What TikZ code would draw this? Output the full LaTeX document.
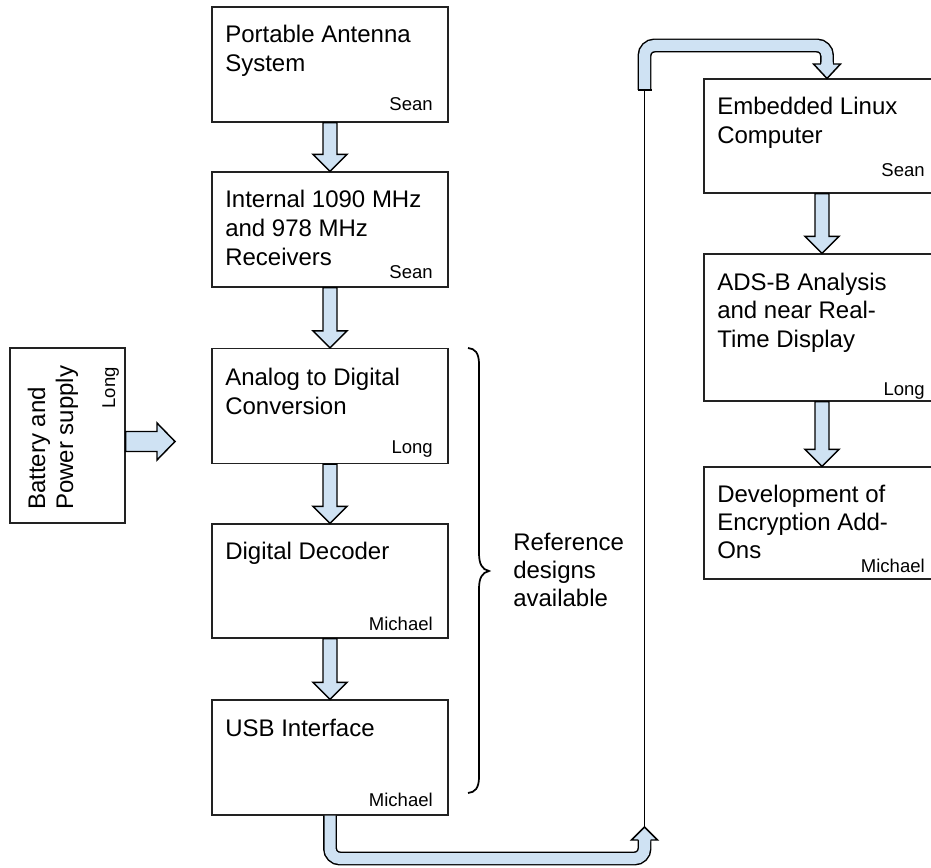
\documentclass[tikz,border=0pt]{standalone}
\usepackage{fontspec}
\setmainfont{Liberation Sans}
\usetikzlibrary{calc}
\definecolor{arrowblue}{HTML}{CFE2F3}
\definecolor{linegray}{HTML}{222222}
\tikzset{
  blockbox/.style={draw=linegray, line width=0.85pt, fill=white, inner sep=0pt, minimum width=177pt},
  lbl/.style={anchor=base west, inner sep=0pt, font=\fontsize{18pt}{21.75pt}\selectfont, text=black},
  owner/.style={anchor=base east, inner sep=0pt, font=\fontsize{13.9pt}{16pt}\selectfont, text=black},
  blockarrow/.style={draw=black, line width=1.1pt, fill=arrowblue, line join=miter},
  bentarrow/.style={draw=black, line width=1.1pt, double=arrowblue, double distance=8.25pt, rounded corners=7.5pt},
  headline/.style={draw=black, line width=1.1pt, line join=miter},
  wireline/.style={draw=black, line width=1.1pt},
  bracestyle/.style={draw=black, line width=1.3pt},
}
\newcommand\blkdown[2]{%
  \path[blockarrow] let \p1=(#1.south), \p2=(#2.north) in
   (\x2-5.25pt,\y1) -- (\x2-5.25pt,\y2+12.75pt) -- (\x2-12.75pt,\y2+12.75pt) -- (\x2,\y2)
   -- (\x2+12.75pt,\y2+12.75pt) -- (\x2+5.25pt,\y2+12.75pt) -- (\x2+5.25pt,\y1) -- cycle;}
\begin{document}
\begin{tikzpicture}[x=0.75pt,y=-0.75pt]
\useasboundingbox (0,0) rectangle (931,867);
\clip (0,0) rectangle (931,867);

% left column boxes
\node[blockbox, minimum height=86.25pt] (b1) at (330,64.5) {};
\node[blockbox, minimum height=86.25pt] (b2) at (330,229.5) {};
\node[blockbox, minimum height=86.25pt] (b3) at (330,406) {};
\node[blockbox, minimum height=85.5pt] (b4) at (330,581) {};
\node[blockbox, minimum height=86.25pt] (b5) at (330,757.5) {};
% right column boxes
\node[blockbox, minimum height=85.5pt] (r1) at (822,136) {};
\node[blockbox, minimum height=110.25pt] (r2) at (822,327.5) {};
\node[blockbox, minimum height=84pt] (r3) at (822,523) {};
% battery box
\node[blockbox, minimum width=86.25pt, minimum height=131.25pt] (bat) at (67.5,435.5) {};

% texts
\node[lbl] (t11) at (225,43) {Portable Antenna};
\node[lbl] (t12) at (225,72) {System};
\node[owner] (o1) at (433,110) {Sean};

\node[lbl] (t21) at (225,207) {Internal 1090 MHz};
\node[lbl] (t22) at (225,236) {and 978 MHz};
\node[lbl] (t23) at (225,265) {Receivers};
\node[owner] (o2) at (433,278) {Sean};

\node[lbl] (t31) at (225,385) {Analog to Digital};
\node[lbl] (t32) at (225,414) {Conversion};
\node[owner] (o3) at (433,453) {Long};

\node[lbl] (t41) at (225,559) {Digital Decoder};
\node[owner] (o4) at (433,630) {Michael};

\node[lbl] (t51) at (225,736) {USB Interface};
\node[owner] (o5) at (433,806) {Michael};

\node[lbl] (u11) at (717,114) {Embedded Linux};
\node[lbl] (u12) at (717,143) {Computer};
\node[owner] (p1) at (925,176) {Sean};

\node[lbl] (u21) at (717,290) {ADS-B Analysis};
\node[lbl] (u22) at (717,318) {and near Real-};
\node[lbl] (u23) at (717,347) {Time Display};
\node[owner] (p2) at (925,395) {Long};

\node[lbl] (u31) at (717,502) {Development of};
\node[lbl] (u32) at (717,530) {Encryption Add-};
\node[lbl] (u33) at (717,558) {Ons};
\node[owner] (p3) at (925,572) {Michael};

\node[lbl, rotate=90] (v1) at (45,510) {Battery and};
\node[lbl, rotate=90] (v2) at (73,510) {Power supply};
\node[owner, rotate=90] (v3) at (115,367) {Long};

\node[lbl] (w1) at (513,550) {Reference};
\node[lbl] (w2) at (513,578) {designs};
\node[lbl] (w3) at (513,606) {available};

% straight block arrows
\blkdown{b1}{b2}
\blkdown{b2}{b3}
\blkdown{b3}{b4}
\blkdown{b4}{b5}
\blkdown{r1}{r2}
\blkdown{r2}{r3}

% battery arrow
\coordinate (battip) at (175,441.5);
\path[blockarrow] let \p1=(bat.east), \p2=(battip) in
  (\x1,\y2+7.5pt) -- (\x2-13.5pt,\y2+7.5pt) -- (\x2-13.5pt,\y2+13.875pt) -- (\x2,\y2)
  -- (\x2-13.5pt,\y2-13.875pt) -- (\x2-13.5pt,\y2-7.5pt) -- (\x1,\y2-7.5pt) -- cycle;

% brace
\draw[bracestyle] (468,348) .. controls (475,348.5) and (479,353) .. (479,364) -- (479,553)
  .. controls (479,564) and (482,569.5) .. (489,571)
  .. controls (482,572.5) and (479,578) .. (479,589) -- (479,777)
  .. controls (479,788) and (475,792.5) .. (468,793);

% bent arrows and link line
\coordinate (toptail) at (644.5,90);
\coordinate (bottip) at (644.5,827);
\coordinate (toptip) at (827,78.5);

\draw[wireline] (bottip) -- (toptail);

\draw[bentarrow] (b5.south) -- (330,858.5) -- (644.5,858.5) -- (644.5,840);
\fill[arrowblue] (639,842) -- (639,840) -- (631.5,840) -- (bottip) -- (657.5,840) -- (650,840) -- (650,842) -- cycle;
\draw[headline] (638.3,840) -- (631.5,840) -- (bottip) -- (657.5,840) -- (650.7,840);

\draw[bentarrow] (toptail) -- (644.5,45.5) -- (827,45.5) -- (827,64);
\fill[arrowblue] (821.5,62) -- (821.5,64) -- (813.5,64) -- (toptip) -- (840.5,64) -- (832.5,64) -- (832.5,62) -- cycle;
\draw[headline] (820.8,64) -- (813.5,64) -- (toptip) -- (840.5,64) -- (833.2,64);
\draw[headline] (637.5,90) -- (651.5,90);
\end{tikzpicture}
\end{document}
